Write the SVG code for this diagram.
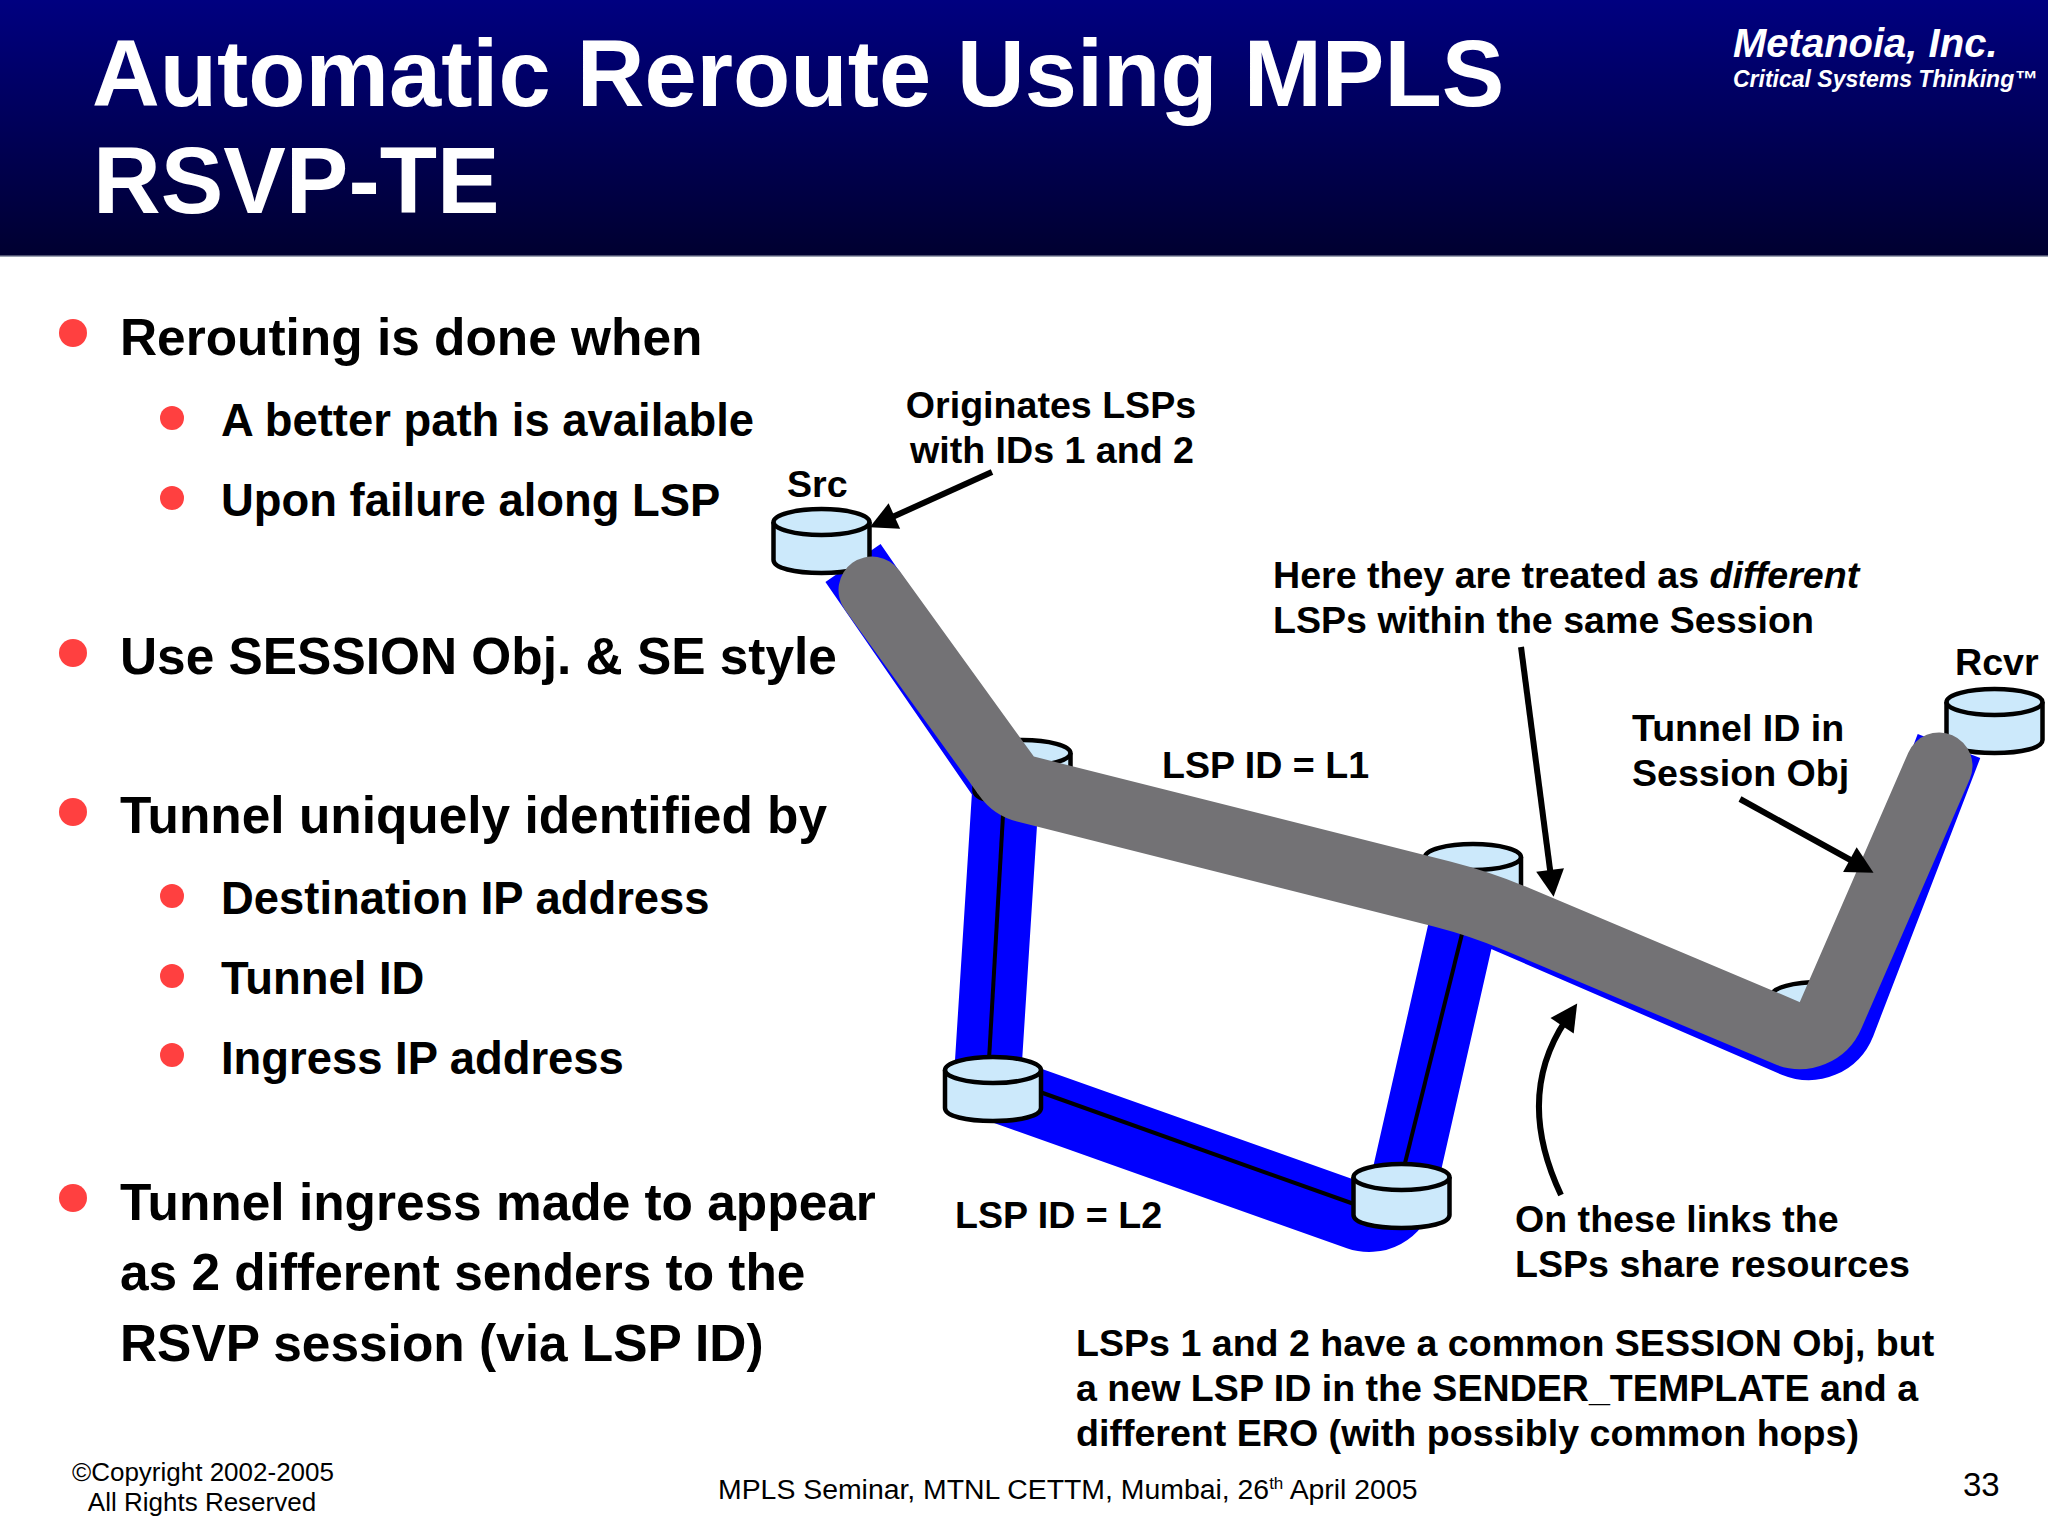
<svg xmlns="http://www.w3.org/2000/svg" width="2048" height="1536" viewBox="0 0 2048 1536">
<style>
text{font-family:"Liberation Sans",Arial,sans-serif;fill:#000}
.t{font-size:93.800px;font-weight:bold;fill:#fff}
.l1{font-size:51.400px;font-weight:bold}
.l2{font-size:45.400px;font-weight:bold}
.c{font-size:37.600px;font-weight:bold}
.f{font-size:26px}
.m{text-anchor:middle}
.d1{fill:#ff4040}
.path{fill:none;stroke-width:67}
.lead{fill:none;stroke:#000;stroke-width:6}
.wire{fill:none;stroke:#000;stroke-width:4}
.cyl{fill:#cce9fb;stroke:#000;stroke-width:4.5}
</style>
<defs>
<linearGradient id="hdr" x1="0" y1="0" x2="0" y2="1"><stop offset="0" stop-color="#000080"/><stop offset="1" stop-color="#000030"/></linearGradient>
<marker id="head" markerUnits="userSpaceOnUse" markerWidth="34" markerHeight="34" refX="10" refY="15" orient="auto"><path d="M30,15 L3,1 L3,29 Z" fill="#000"/></marker>
<g id="cyl"><path class="cyl" d="M-48,0 V38 C-48,46 -27,51 0,51 C27,51 48,46 48,38 V0"/><ellipse class="cyl" cx="0" cy="0" rx="48" ry="13"/></g>
</defs>
<g id="header">
<rect x="0" y="0" width="2048" height="256" fill="url(#hdr)"/>
<rect x="0" y="255.500" width="2048" height="1.500" fill="#9aa0b0"/>
<text class="t" x="92" y="106">Automatic Reroute Using MPLS</text>
<text class="t" x="93" y="213">RSVP-TE</text>
<text x="1733" y="57" style="font-size:40px;font-weight:bold;font-style:italic;fill:#fff">Metanoia, Inc.</text>
<text x="1733" y="87" style="font-size:23px;font-weight:bold;font-style:italic;fill:#fff">Critical Systems Thinking™</text>
</g>
<g id="bullets">
<circle class="d1" cx="73" cy="333" r="14"/><text class="l1" x="120" y="355">Rerouting is done when</text>
<circle class="d1" cx="172" cy="418" r="12"/><text class="l2" x="221" y="436">A better path is available</text>
<circle class="d1" cx="172" cy="498" r="12"/><text class="l2" x="221" y="516">Upon failure along LSP</text>
<circle class="d1" cx="73" cy="653" r="14"/><text class="l1" x="120" y="674">Use SESSION Obj. &amp; SE style</text>
<circle class="d1" cx="73" cy="812" r="14"/><text class="l1" x="120" y="833">Tunnel uniquely identified by</text>
<circle class="d1" cx="172" cy="896" r="12"/><text class="l2" x="221" y="914">Destination IP address</text>
<circle class="d1" cx="172" cy="976" r="12"/><text class="l2" x="221" y="994">Tunnel ID</text>
<circle class="d1" cx="172" cy="1055" r="12"/><text class="l2" x="221" y="1074">Ingress IP address</text>
<circle class="d1" cx="73" cy="1198" r="14"/><text class="l1" x="120" y="1220">Tunnel ingress made to appear</text>
<text class="l1" x="120" y="1290">as 2 different senders to the</text>
<text class="l1" x="120" y="1361">RSVP session (via LSP ID)</text>
</g>
<g id="node-mid-c"><use href="#cyl" x="1820" y="995"/></g>
<g id="connectors">
<path id="lsp2" class="path" stroke="#0000ff" stroke-linejoin="round" d="M853,563 L1006,785 L987,1085 L1358,1216.600 A33.500,33.500 0 0 0 1401.600,1193 L1462,927 L1490,912 L1795,1044 A36,36 0 0 0 1842,1024 L1949,746"/>
<path class="wire" d="M1003,815 L989,1060"/>
<path class="wire" d="M1040,1092 L1354,1204"/>
<path class="wire" d="M1463,930 L1404,1167"/>
</g>
<g id="node-mid-a"><use href="#cyl" x="1022.500" y="753"/></g>
<g id="node-mid-b"><use href="#cyl" x="1473" y="857"/></g>
<g id="node-src"><use href="#cyl" x="821.500" y="522"/><text class="c" x="787" y="497">Src</text></g>
<g id="node-rcvr"><use href="#cyl" x="1994.500" y="702"/><text class="c" x="1955" y="675">Rcvr</text></g>
<g id="node-low-a"><use href="#cyl" x="993" y="1070"/></g>
<g id="node-low-b"><use href="#cyl" x="1401.500" y="1177"/></g>
<g id="connectors-top">
<path id="lsp1" class="path" stroke="#737275" stroke-linecap="round" d="M872,590 L1006.500,776 A33.500,33.500 0 0 0 1025.400,789 L1442,894 Q1481,904 1518,919.600 L1787,1033 A33.500,33.500 0 0 0 1830.700,1015 L1939,766"/>
<path class="lead" marker-end="url(#head)" d="M992,472 L888,519"/>
<path class="lead" marker-end="url(#head)" d="M1521,647 L1551,877"/>
<path class="lead" marker-end="url(#head)" d="M1740,799 L1856,863"/>
<path class="lead" marker-end="url(#head)" d="M1561,1195 C1535,1140 1527,1078 1566,1020"/>
</g>
<g id="labels">
<text class="c m" x="1051" y="418">Originates LSPs</text>
<text class="c m" x="1052" y="463">with IDs 1 and 2</text>
<text class="c" x="1273" y="588">Here they are treated as <tspan font-style="italic">different</tspan></text>
<text class="c" x="1273" y="633">LSPs within the same Session</text>
<text class="c" x="1162" y="778">LSP ID = L1</text>
<text class="c" x="1632" y="741">Tunnel ID in</text>
<text class="c" x="1632" y="786">Session Obj</text>
<text class="c" x="955" y="1228">LSP ID = L2</text>
<text class="c" x="1515" y="1232">On these links the</text>
<text class="c" x="1515" y="1277">LSPs share resources</text>
<text class="c" x="1076" y="1356">LSPs 1 and 2 have a common SESSION Obj, but</text>
<text class="c" x="1076" y="1401">a new LSP ID in the SENDER_TEMPLATE and a</text>
<text class="c" x="1076" y="1446">different ERO (with possibly common hops)</text>
</g>
<g id="footer">
<text class="f m" x="203" y="1481">©Copyright 2002-2005</text>
<text class="f m" x="202" y="1511">All Rights Reserved</text>
<text x="718" y="1499" style="font-size:28.400px">MPLS Seminar, MTNL CETTM, Mumbai, 26<tspan font-size="17" dy="-10">th</tspan><tspan dy="10"> April 2005</tspan></text>
<text x="1963" y="1496" style="font-size:33px">33</text>
</g>
</svg>
